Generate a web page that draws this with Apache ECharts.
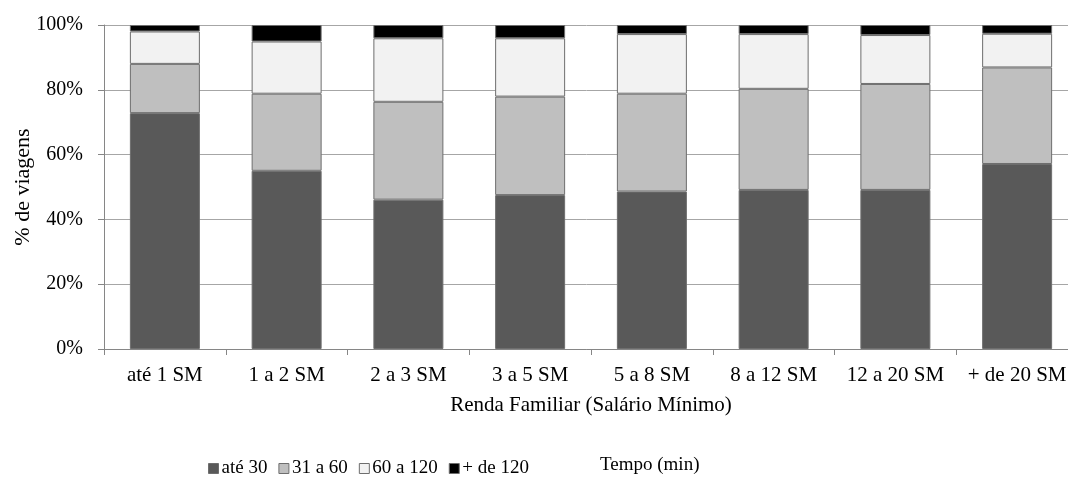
<!DOCTYPE html>
<html>
<head>
<meta charset="utf-8">
<script src="https://cdn.jsdelivr.net/npm/echarts@6/dist/echarts.min.js"></script>
<style>
html,body{margin:0;padding:0;background:#fff;}
#chart{width:1068px;height:484px;}
</style>
</head>
<body>
<div id="chart"></div>
<script>
const categories = ['até 1 SM','1 a 2 SM','2 a 3 SM','3 a 5 SM','5 a 8 SM','8 a 12 SM','12 a 20 SM','+ de 20 SM'];
const ate30    = [72.8, 55.0, 46.1, 47.5, 48.6, 49.1, 49.1, 57.1];
const de31a60  = [15.2, 23.8, 30.2, 30.4, 30.2, 31.2, 32.7, 29.8];
const de60a120 = [10.0, 16.1, 19.6, 18.0, 18.4, 16.9, 15.1, 10.4];
const mais120  = [ 2.0,  5.1,  4.1,  4.1,  2.8,  2.8,  3.1,  2.7];
const seriesNames = ['até 30','31 a 60','60 a 120','+ de 120'];
const yTicks = [0, 20, 40, 60, 80, 100];

const FONT = 'Liberation Serif';
const colors = ['#595959','#bfbfbf','#f2f2f2','#000000'];
const dataSets = [ate30, de31a60, de60a120, mais120];

const chart = echarts.init(document.getElementById('chart'), null, {renderer:'canvas'});
chart.setOption({
  animation:false,
  textStyle:{fontFamily:FONT, color:'#000'},
  grid:{left:104, top:25, width:974, height:324, containLabel:false, outerBoundsMode:'none'},
  legend:{
    left:203, top:454,
    itemWidth:10, itemHeight:10, itemGap:11,
    icon:'rect',
    textStyle:{fontFamily:FONT, fontSize:19, color:'#000', padding:[0,0,0,-2]},
    data: seriesNames.map((n,i)=>({name:n, itemStyle:{borderColor:'#6e6e6e', borderWidth:1}}))
  },
  graphic:[{
    type:'text', left:600, top:456,
    style:{text:'Tempo (min)', fontFamily:FONT, fontSize:19, fill:'#000'}
  }],
  xAxis:{
    type:'category', data:categories,
    axisLine:{lineStyle:{color:'#868686', width:1}},
    axisTick:{show:true, length:6, lineStyle:{color:'#868686'}},
    axisLabel:{fontFamily:FONT, fontSize:21, color:'#000', margin:16, interval:0},
    name:'Renda Familiar (Salário Mínimo)', nameLocation:'middle', nameGap:46,
    nameMoveOverlap:false,
    nameTextStyle:{fontFamily:FONT, fontSize:21, color:'#000'}
  },
  yAxis:{
    type:'value', min:0, max:100, interval:20,
    axisLine:{show:true, lineStyle:{color:'#868686', width:1}},
    axisTick:{show:true, length:6, lineStyle:{color:'#868686'}},
    splitLine:{lineStyle:{color:'#a6a6a6', width:1}},
    axisLabel:{fontFamily:FONT, fontSize:20, color:'#000', margin:21,
      formatter:v=> yTicks.includes(v) ? v+'%' : ''},
    name:'% de viagens', nameLocation:'middle', nameGap:70,
    nameMoveOverlap:false,
    nameTextStyle:{fontFamily:FONT, fontSize:22, color:'#000'}
  },
  series: dataSets.map((d,i)=>({
    name:seriesNames[i], type:'bar', stack:'total', data:d,
    barWidth:70,
    itemStyle:{color:colors[i], borderColor:'#6e6e6e', borderWidth:1}
  }))
});
</script>
</body>
</html>
